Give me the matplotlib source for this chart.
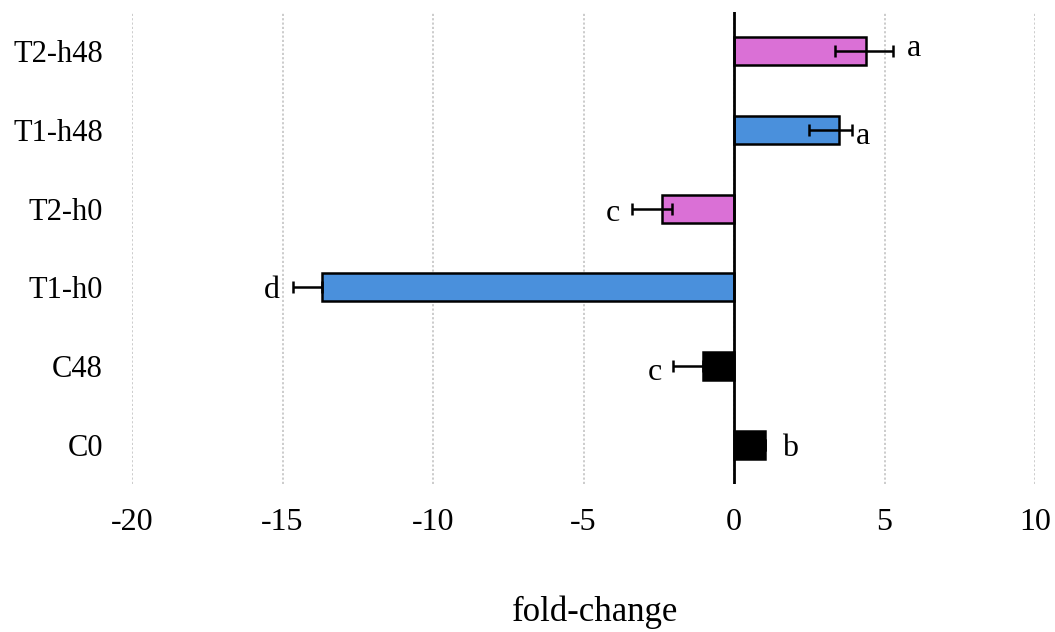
import matplotlib.pyplot as plt

# groups, bottom to top
groups = ["C0", "C48", "T1-h0", "T2-h0", "T1-h48", "T2-h48"]
fold = [1.03, -1.03, -13.69, -2.39, 3.49, 4.39]
err_minus = [0.0, 1.0, 0.96, 1.0, 1.0, 1.03]
err_plus = [0.0, 0.0, 0.0, 0.33, 0.43, 0.9]
letters = ["b", "c", "d", "c", "a", "a"]
colors = ["black", "black", "#4A90DC", "#DA70D6", "#4A90DC", "#DA70D6"]

plt.rcParams['font.family'] = ['Liberation Serif', 'DejaVu Serif']
plt.rcParams['axes.unicode_minus'] = False

fig = plt.figure(figsize=(10.55, 6.32), dpi=100)
ax = fig.add_axes([132/1055, 1-484/632, 903/1055, 472/632])

ypos = range(len(groups))
ax.barh(ypos, fold, height=0.36, color=colors, edgecolor="black", linewidth=1.8, zorder=3)
ax.errorbar(fold, ypos, xerr=[err_minus, err_plus], fmt="none", ecolor="black",
            elinewidth=1.8, capsize=4, capthick=1.8, zorder=4)

# significance letters next to the error bar tips
gap = [17, 11, 13, 12, 4, 14]   # pixels from tip
dy = [-4, -7, -3, -5, -6, 3]
for i, (v, lo, hi, lab) in enumerate(zip(fold, err_minus, err_plus, letters)):
    if v >= 0:
        tip = v + hi
        ax.annotate(lab, (tip, i), xytext=(gap[i]*0.72, dy[i]*0.72), textcoords="offset points",
                    ha="left", va="center", fontsize=23, zorder=5)
    else:
        tip = v - lo
        ax.annotate(lab, (tip, i), xytext=(-gap[i]*0.72, dy[i]*0.72), textcoords="offset points",
                    ha="right", va="center", fontsize=23, zorder=5)

ax.set_xlim(-20, 10)
ax.set_ylim(-0.5, len(groups) - 0.5)
ax.set_xticks(range(-20, 11, 5))
ax.set_yticks(list(ypos))
ax.set_yticklabels(groups)
ax.tick_params(axis="y", length=0, labelsize=22, pad=21)
ax.tick_params(axis="x", length=0, labelsize=23, pad=17)

for s in ["top", "right", "bottom", "left"]:
    ax.spines[s].set_visible(False)
ax.axvline(0, color="black", linewidth=2, zorder=6)

ax.xaxis.grid(True, color="#C8C8C8", linestyle=(0, (1.2, 1.2)), linewidth=1.3, zorder=0)
ax.set_axisbelow(True)

fig.text(595/1055, 1-612/632, "fold-change", ha="center", va="center", fontsize=25)

fig.savefig("out.png", dpi=100)
